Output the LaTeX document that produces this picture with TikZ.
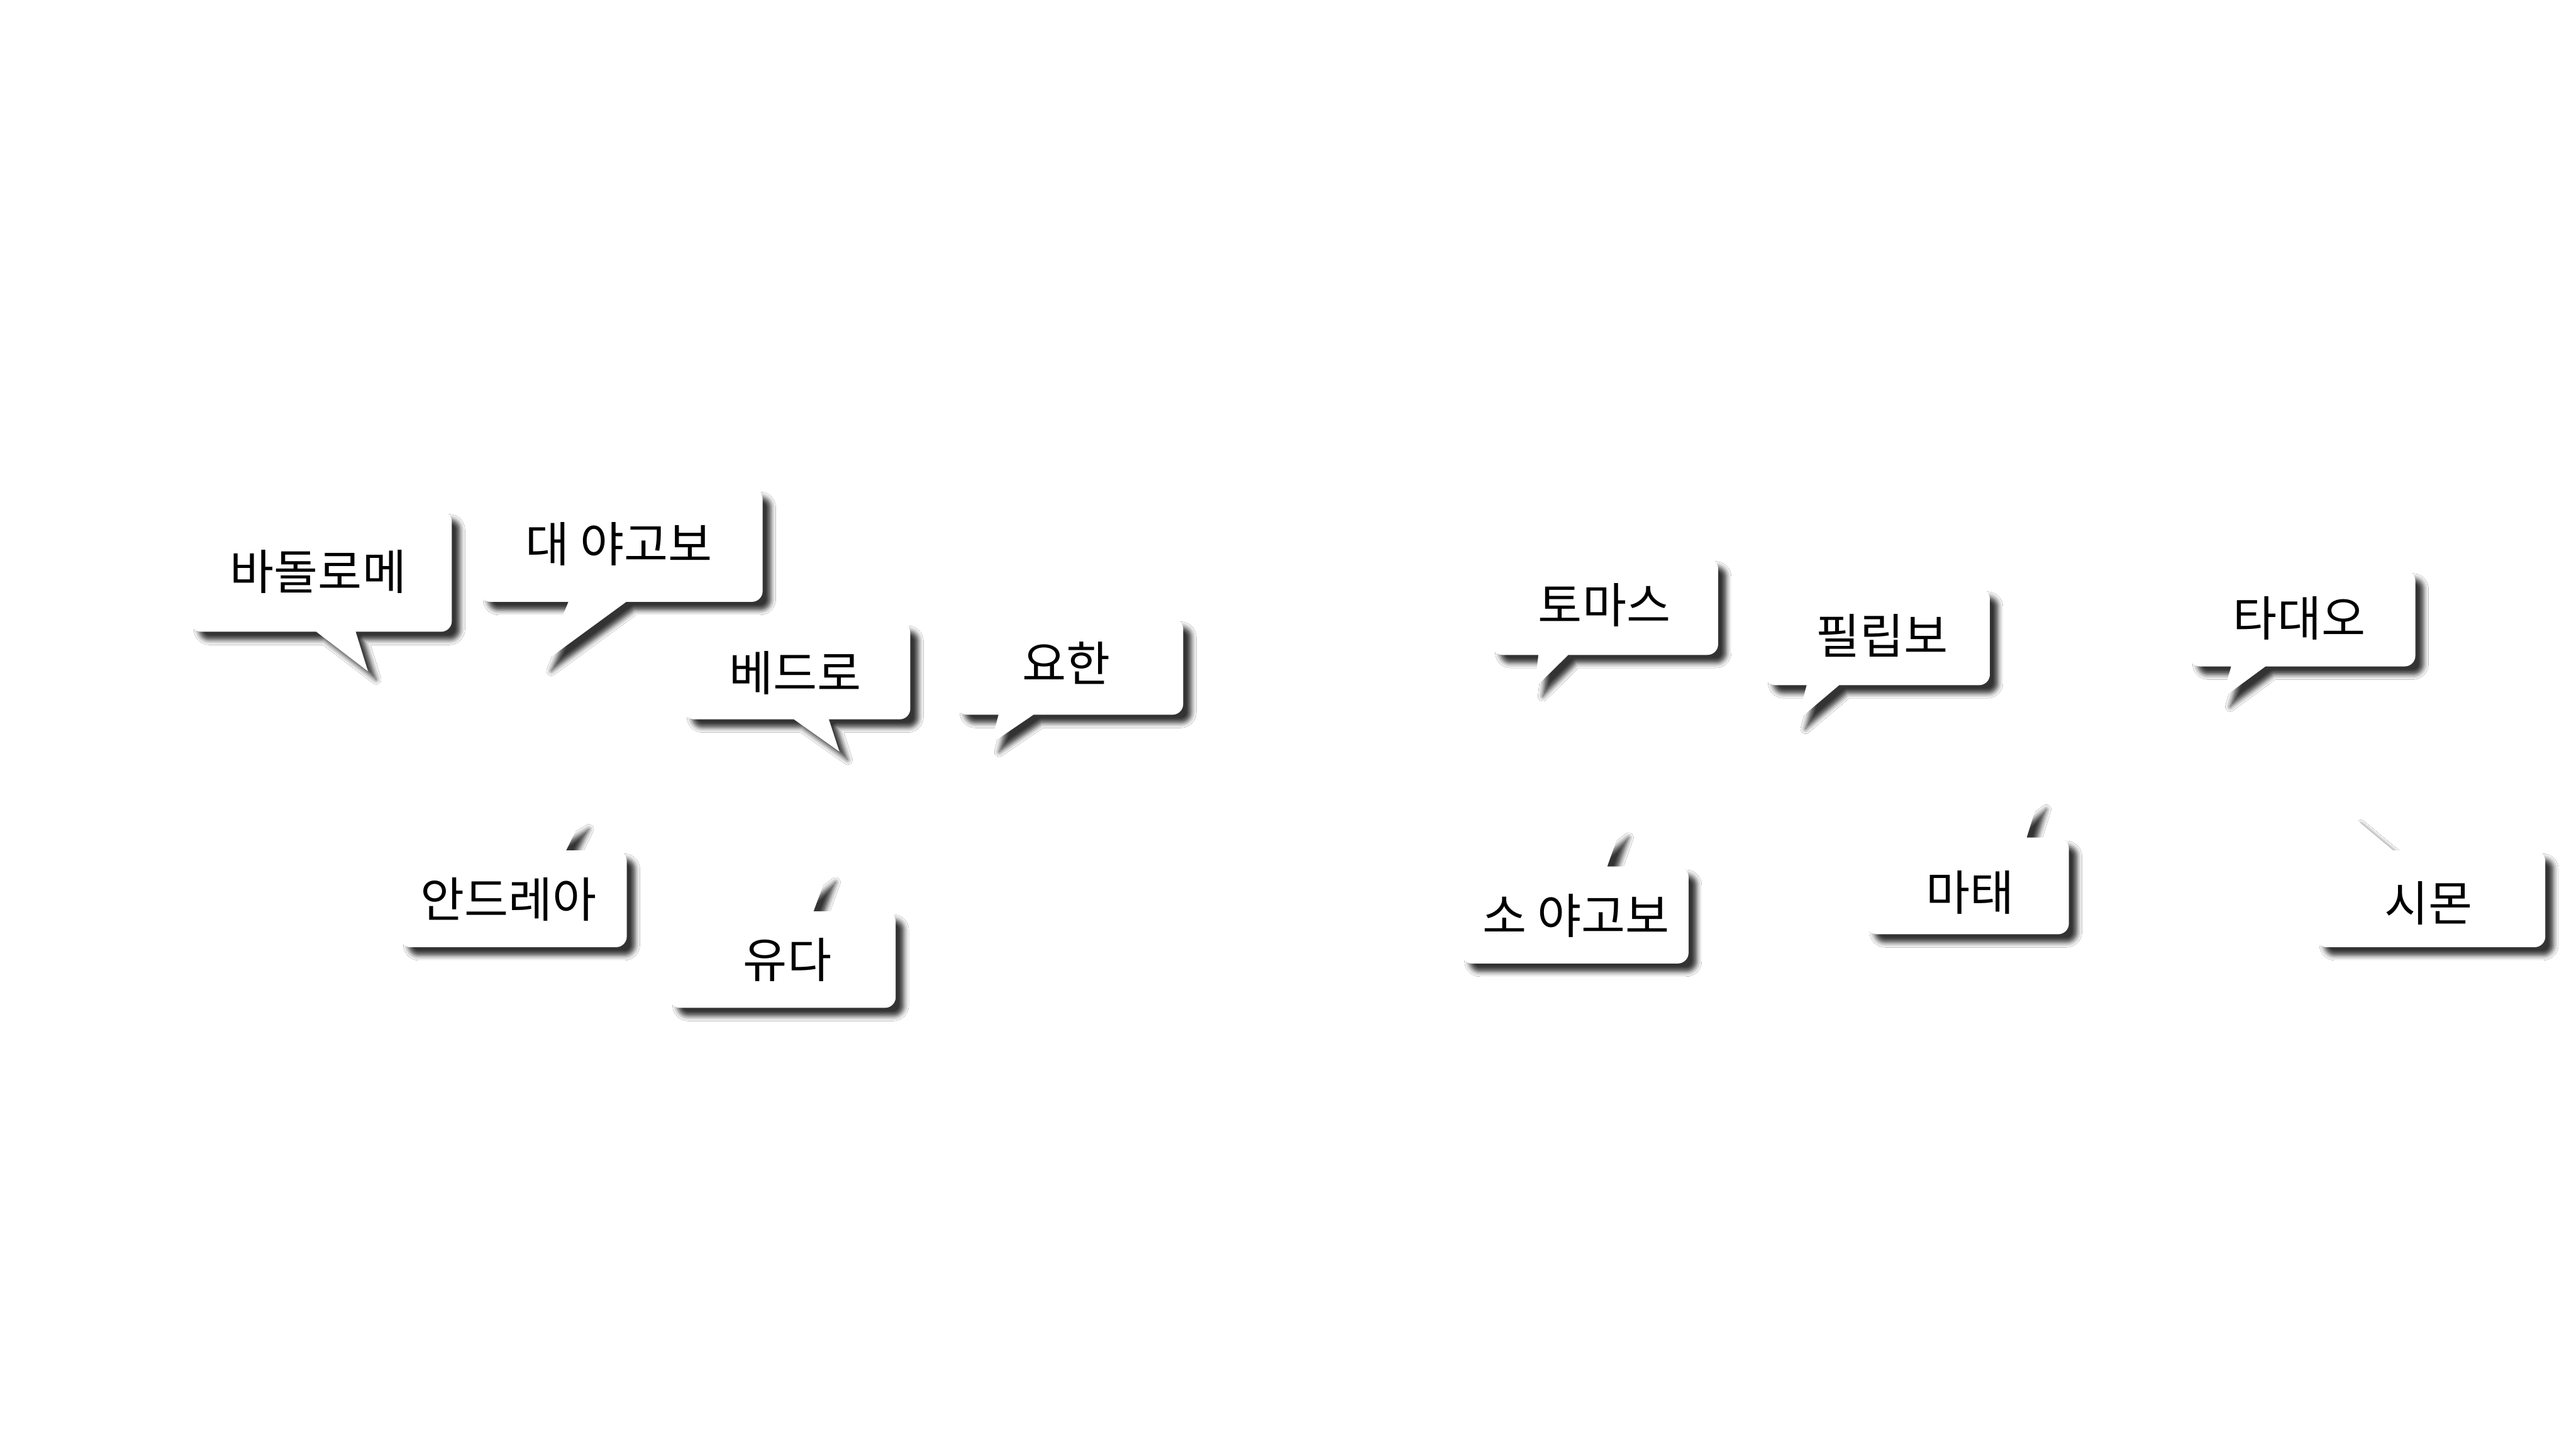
\documentclass[tikz,border=0pt]{standalone}
\usepackage{fontspec}
\setmainfont{Noto Sans CJK KR}
\usepackage{tikz}
\usetikzlibrary{shadows.blur}

\newcommand{\bubrad}{6.5}

\tikzset{
bubble/.style={fill=white, blur shadow={shadow xshift=1mm, shadow yshift=-1mm, shadow blur radius=0.6mm, shadow opacity=80}},
bubtext/.style={font=\fontsize{16.6}{20}\selectfont, inner sep=0pt}
}

\begin{document}
\begin{tikzpicture}[x=0.2mm, y=0.2mm]

\fill[white] (0,0) rectangle (1568,-883);
\useasboundingbox (0,0) rectangle (1568,-883);

% bubbles with the tail at the bottom
\foreach \nm/\L/\T/\R/\B/\ba/\bb/\px/\py/\tx/\ty/\txt in {
bart/116/311/275/384.5/192.5/216.5/224/408.6/193.7/348/바돌로메,
jamesg/292/297.4/464.2/366.3/346/381.2/330.6/403.3/376.8/331.1/대 야고보,
peter/416.1/378.9/554.1/437.8/483.2/504.5/510.9/457.4/484/409.7/베드로,
john/582.2/376.4/720.2/435/607.8/629.1/603.2/452.6/649.1/403.6/요한,
thomas/908.1/339.7/1045.8/398.6/936.4/954.6/934.1/418.8/976.6/368.4/토마스,
philip/1074.2/358.1/1211.2/417/1099.7/1119.5/1094/438.6/1145.6/386.7/필립보,
thaddeus/1332.6/347/1470.2/405.6/1358.1/1379/1352.5/425.1/1399.6/376.4/타대오}
{
\fill[bubble] ({\L+\bubrad},-\T) -- ({\R-\bubrad},-\T) arc[start angle=90, end angle=0, radius=\bubrad]
  -- (\R,{-\B+\bubrad}) arc[start angle=0, end angle=-90, radius=\bubrad]
  -- (\bb,-\B) -- (\px,-\py) -- (\ba,-\B)
  -- ({\L+\bubrad},-\B) arc[start angle=270, end angle=180, radius=\bubrad]
  -- (\L,{-\T-\bubrad}) arc[start angle=180, end angle=90, radius=\bubrad] -- cycle;
\node[bubtext] (\nm) at (\tx,-\ty) {\txt};
}

% bubbles with the tail at the top
\foreach \nm/\L/\T/\R/\B/\ba/\bb/\px/\py/\tx/\ty/\txt in {
andrew/243.5/517.6/381.5/576.5/323/344.6/353.4/499.7/309.5/547.5/안드레아,
judas/407.4/554.6/545.2/613.4/474/495.2/503.6/532/479.3/584/유다,
jamesl/889.4/527.4/1027.8/586.4/957/978.3/986.3/504.8/959.3/557.3/소 야고보,
matthew/1136/509.8/1259.3/568.6/1212/1233.6/1240.5/487.7/1199/543.2/마태,
simon/1409.8/517.6/1549.3/576.5/1436/1456.7/1432/497/1478.3/549.8/시몬}
{
\fill[bubble] ({\L+\bubrad},-\T) -- (\ba,-\T) -- (\px,-\py) -- (\bb,-\T)
  -- ({\R-\bubrad},-\T) arc[start angle=90, end angle=0, radius=\bubrad]
  -- (\R,{-\B+\bubrad}) arc[start angle=0, end angle=-90, radius=\bubrad]
  -- ({\L+\bubrad},-\B) arc[start angle=270, end angle=180, radius=\bubrad]
  -- (\L,{-\T-\bubrad}) arc[start angle=180, end angle=90, radius=\bubrad] -- cycle;
\node[bubtext] (\nm) at (\tx,-\ty) {\txt};
}

\end{tikzpicture}
\end{document}
